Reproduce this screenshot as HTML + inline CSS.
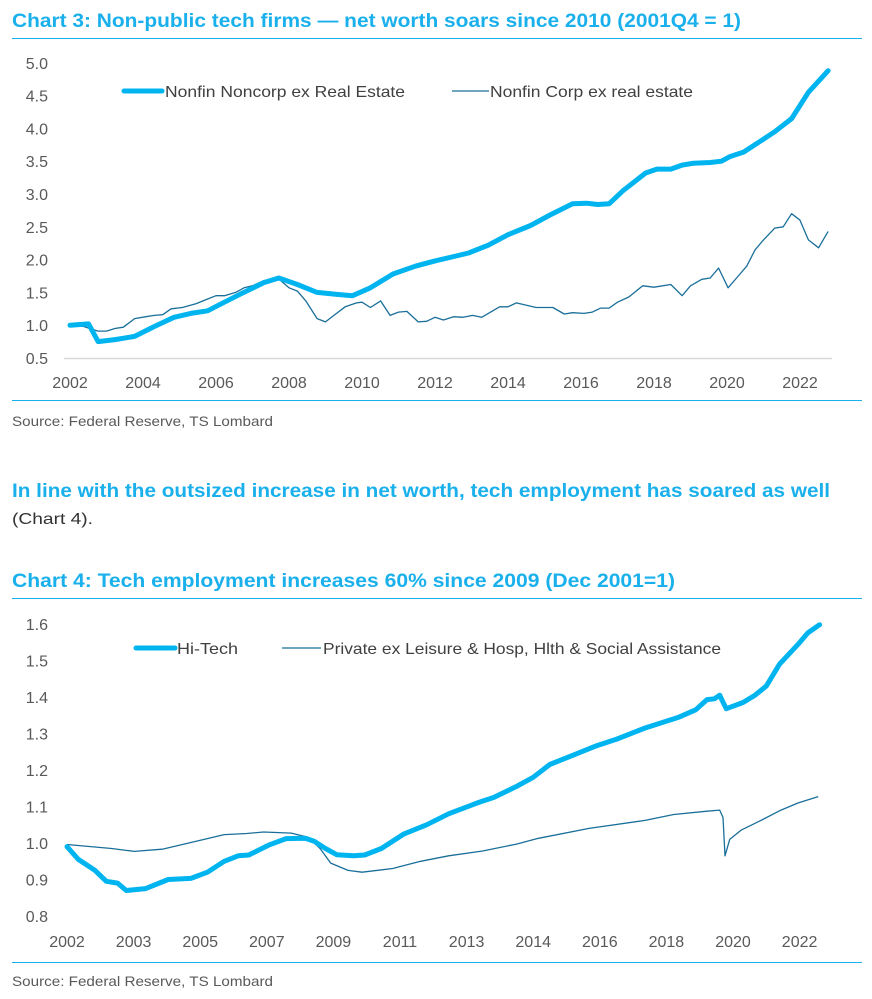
<!DOCTYPE html>
<html><head><meta charset="utf-8"><style>
html,body{margin:0;padding:0;background:#fff;}
svg{display:block;font-family:"Liberation Sans",sans-serif;}
</style></head><body>
<svg id="page" width="872" height="999" viewBox="0 0 872 999">
<text x="12" y="27" font-size="19" font-weight="bold" fill="#1ab0ec" textLength="729" lengthAdjust="spacingAndGlyphs">Chart 3: Non-public tech firms — net worth soars since 2010 (2001Q4 = 1)</text>
<line x1="12" y1="38.5" x2="862" y2="38.5" stroke="#1ab0ec" stroke-width="1"/>
<g id="c3"></g>
<line x1="12" y1="400.5" x2="862" y2="400.5" stroke="#1ab0ec" stroke-width="1"/>
<text x="12" y="426" font-size="14" fill="#595959" textLength="261" lengthAdjust="spacingAndGlyphs">Source: Federal Reserve, TS Lombard</text>
<text x="12" y="497" font-size="19" font-weight="bold" fill="#1ab0ec" textLength="818" lengthAdjust="spacingAndGlyphs">In line with the outsized increase in net worth, tech employment has soared as well</text>
<text x="12" y="524" font-size="16" fill="#333" textLength="81" lengthAdjust="spacingAndGlyphs">(Chart 4).</text>
<text x="12" y="587" font-size="19" font-weight="bold" fill="#1ab0ec" textLength="663" lengthAdjust="spacingAndGlyphs">Chart 4: Tech employment increases 60% since 2009 (Dec 2001=1)</text>
<line x1="12" y1="598.5" x2="862" y2="598.5" stroke="#1ab0ec" stroke-width="1"/>
<g id="c4"></g>
<line x1="12" y1="962.5" x2="862" y2="962.5" stroke="#1ab0ec" stroke-width="1"/>
<text x="12" y="986" font-size="14" fill="#595959" textLength="261" lengthAdjust="spacingAndGlyphs">Source: Federal Reserve, TS Lombard</text>
</svg>
<script>
// ---- Chart 3 data ----
const c3Ticks = [0.5,1.0,1.5,2.0,2.5,3.0,3.5,4.0,4.5,5.0];
const c3Years = [2002,2004,2006,2008,2010,2012,2014,2016,2018,2020,2022];
const nonCorpT = [2002,2002.51,2002.77,2003.23,2003.77,2004.31,2004.85,2005.31,2005.77,2006.23,2006.69,2007.31,2007.72,2008.23,2008.77,2009.31,2009.74,2010.23,2010.85,2011.46,2012.0,2012.46,2012.92,2013.46,2014.0,2014.62,2015.15,2015.77,2016.15,2016.46,2016.77,2017.15,2017.77,2018.08,2018.46,2018.77,2019.08,2019.54,2019.85,2020.08,2020.46,2021.31,2021.77,2022.23,2022.77];
const nonCorpV = [1.0,1.02,0.75,0.78,0.83,0.98,1.12,1.18,1.22,1.35,1.48,1.65,1.72,1.62,1.5,1.47,1.45,1.57,1.78,1.9,1.98,2.04,2.1,2.22,2.38,2.52,2.68,2.85,2.86,2.84,2.85,3.05,3.32,3.38,3.38,3.44,3.47,3.48,3.5,3.57,3.64,3.95,4.15,4.55,4.88];
const corpT = [2002.0,2002.38,2002.54,2002.77,2003.0,2003.23,2003.46,2003.77,2004.08,2004.31,2004.54,2004.77,2005.08,2005.46,2005.77,2006.0,2006.23,2006.54,2006.77,2007.0,2007.31,2007.69,2008.0,2008.23,2008.46,2008.77,2009.0,2009.23,2009.54,2009.85,2010.0,2010.23,2010.51,2010.77,2011.0,2011.23,2011.54,2011.77,2012.0,2012.23,2012.51,2012.77,2013.03,2013.28,2013.77,2014.0,2014.23,2014.77,2015.23,2015.54,2015.77,2016.08,2016.31,2016.54,2016.77,2017.0,2017.31,2017.69,2018.0,2018.46,2018.77,2019.0,2019.31,2019.54,2019.77,2020.03,2020.31,2020.54,2020.77,2021.0,2021.31,2021.54,2021.77,2022.0,2022.23,2022.51,2022.77];
const corpV = [1.0,0.98,0.95,0.91,0.91,0.95,0.97,1.1,1.13,1.15,1.16,1.25,1.27,1.33,1.4,1.45,1.45,1.5,1.57,1.6,1.68,1.72,1.57,1.52,1.37,1.1,1.05,1.15,1.28,1.34,1.35,1.27,1.37,1.15,1.2,1.21,1.05,1.06,1.12,1.08,1.13,1.12,1.15,1.12,1.28,1.28,1.34,1.27,1.27,1.17,1.19,1.18,1.2,1.26,1.26,1.35,1.43,1.6,1.58,1.62,1.45,1.6,1.7,1.72,1.87,1.57,1.75,1.9,2.15,2.3,2.48,2.5,2.7,2.6,2.3,2.18,2.43];
// ---- Chart 4 data (t in x-label units: 0 = first label) ----
const c4Ticks = [0.8,0.9,1.0,1.1,1.2,1.3,1.4,1.5,1.6];
const c4Labels = ["2002","2003","2005","2007","2009","2011","2013","2014","2016","2018","2020","2022"];
const hiT = [0,0.17,0.42,0.59,0.76,0.89,1.18,1.52,1.86,2.11,2.36,2.57,2.73,3.04,3.29,3.58,3.71,3.88,4.05,4.30,4.47,4.72,5.06,5.40,5.73,6.16,6.41,6.75,7.00,7.25,7.59,7.93,8.26,8.68,9.19,9.44,9.61,9.72,9.80,9.84,9.90,10.15,10.33,10.50,10.70,10.98,11.12,11.30];
const hiV = [0.99,0.955,0.925,0.895,0.89,0.87,0.875,0.9,0.903,0.92,0.95,0.965,0.967,0.995,1.012,1.013,1.005,0.985,0.968,0.965,0.967,0.985,1.025,1.05,1.08,1.11,1.125,1.155,1.18,1.215,1.24,1.265,1.285,1.315,1.345,1.365,1.393,1.395,1.405,1.39,1.368,1.385,1.405,1.43,1.49,1.545,1.575,1.598];
const privT = [0,0.67,1.01,1.43,1.94,2.36,2.70,2.95,3.37,3.63,3.80,3.96,4.22,4.43,4.89,5.31,5.73,6.24,6.75,7.08,7.84,8.68,9.11,9.61,9.80,9.85,9.88,9.95,10.12,10.40,10.72,10.98,11.28];
const privV = [0.996,0.985,0.977,0.983,1.005,1.023,1.026,1.03,1.027,1.015,0.985,0.945,0.925,0.92,0.93,0.95,0.965,0.978,0.997,1.013,1.04,1.062,1.078,1.087,1.09,1.07,0.965,1.01,1.035,1.06,1.09,1.11,1.127];

const NS="http://www.w3.org/2000/svg";
function mk(parent,tag,attrs,txt){const e=document.createElementNS(NS,tag);for(const k in attrs)e.setAttribute(k,attrs[k]);if(txt!==undefined)e.textContent=txt;parent.appendChild(e);return e;}
function pathD(ts,vs,sx,sy){return ts.map((t,i)=>(i?"L":"M")+sx(t).toFixed(1)+","+sy(vs[i]).toFixed(1)).join(" ");}

// Chart 3
const g3=document.getElementById('c3');
const x3=t=>70+(t-2002)*36.5;
const y3=v=>358-(v-0.5)*65.6;
c3Ticks.forEach(v=>{
 const t=mk(g3,'text',{x:48,y:y3(v)+6,'font-size':16,fill:'#595959','text-anchor':'end'},v.toFixed(1));
 
 
});
const ax3=mk(g3,'line',{x1:64,y1:358.5,x2:832,y2:358.5,stroke:'#d9d9d9','stroke-width':1.5});


c3Years.forEach(yr=>{
 const t=mk(g3,'text',{x:x3(yr),y:388,'font-size':16,fill:'#595959','text-anchor':'middle'},String(yr));
 
 
});
const pc=mk(g3,'path',{d:pathD(corpT,corpV,x3,y3),fill:'none',stroke:'#1a6f9a','stroke-width':1.3,'stroke-linejoin':'round'});


const pn=mk(g3,'path',{d:pathD(nonCorpT,nonCorpV,x3,y3),fill:'none',stroke:'#00b4f0','stroke-width':5,'stroke-linejoin':'round','stroke-linecap':'round'});


let l=mk(g3,'line',{x1:124,y1:91,x2:162,y2:91,stroke:'#00b4f0','stroke-width':5,'stroke-linecap':'round'});


l=mk(g3,'text',{x:165,y:97,'font-size':16,fill:'#404040',textLength:240,lengthAdjust:'spacingAndGlyphs'},'Nonfin Noncorp ex Real Estate');


l=mk(g3,'line',{x1:452,y1:91,x2:489,y2:91,stroke:'#1a6f9a','stroke-width':1.3});


l=mk(g3,'text',{x:490,y:97,'font-size':16,fill:'#404040',textLength:203,lengthAdjust:'spacingAndGlyphs'},'Nonfin Corp ex real estate');



// Chart 4
const g4=document.getElementById('c4');
const x4=u=>67+u*66.6;
const y4=v=>916-(v-0.8)*365;
c4Ticks.forEach(v=>{
 const t=mk(g4,'text',{x:48,y:y4(v)+6,'font-size':16,fill:'#595959','text-anchor':'end'},v.toFixed(1));
 
 
});
c4Labels.forEach((s,i)=>{
 const t=mk(g4,'text',{x:x4(i),y:947,'font-size':16,fill:'#595959','text-anchor':'middle'},s);
 
 
});
const pp=mk(g4,'path',{d:pathD(privT,privV,x4,y4),fill:'none',stroke:'#1a6f9a','stroke-width':1.3,'stroke-linejoin':'round'});


const ph=mk(g4,'path',{d:pathD(hiT,hiV,x4,y4),fill:'none',stroke:'#00b4f0','stroke-width':5,'stroke-linejoin':'round','stroke-linecap':'round'});


l=mk(g4,'line',{x1:136,y1:648,x2:175,y2:648,stroke:'#00b4f0','stroke-width':5,'stroke-linecap':'round'});


l=mk(g4,'text',{x:177,y:654,'font-size':16,fill:'#404040',textLength:61,lengthAdjust:'spacingAndGlyphs'},'Hi-Tech');


l=mk(g4,'line',{x1:282,y1:648,x2:321,y2:648,stroke:'#1a6f9a','stroke-width':1.3});


l=mk(g4,'text',{x:323,y:654,'font-size':16,fill:'#404040',textLength:398,lengthAdjust:'spacingAndGlyphs'},'Private ex Leisure & Hosp, Hlth & Social Assistance');


</script>
</body></html>
